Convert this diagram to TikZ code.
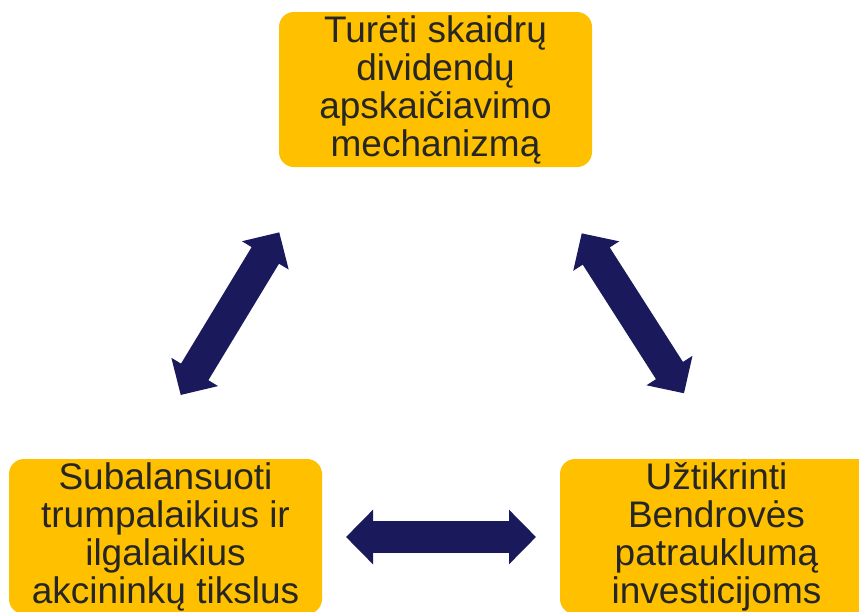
\documentclass[tikz,border=0pt]{standalone}
\usepackage{fontspec}
\setmainfont{Liberation Sans}
\usetikzlibrary{arrows.meta}
\definecolor{boxfill}{HTML}{FFC000}
\definecolor{navy}{RGB}{25,25,92}
\definecolor{txt}{HTML}{262626}
\begin{document}
\begin{tikzpicture}[x=1pt,y=-1pt,
  goal/.style={rectangle, rounded corners=15pt, fill=boxfill, minimum width=313pt,
    minimum height=155pt, inner sep=0pt, align=center, text=txt,
    font=\fontsize{37pt}{38pt}\selectfont},
  bigarrow/.style={draw=navy, line width=32pt,
    {Triangle[length=27pt,width=53pt]}-{Triangle[length=27pt,width=53pt]}}]
\useasboundingbox (0,0) rectangle (859,611);
\clip (0,0) rectangle (859,611);
\node[goal] (top) at (435.5,89.5) {Turėti skaidrų\\dividendų\\apskaičiavimo\\mechanizmą};
\node[goal] (left) at (165.5,536.5) {Subalansuoti\\trumpalaikius ir\\ilgalaikius\\akcininkų tikslus};
\node[goal] (right) at (716.5,536.5) {U\smash{ž}tikrinti\\Bendrovės\\patrauklumą\\investicijoms};
\coordinate (l1) at (180.7,395);
\coordinate (l2) at (279.3,232.3);
\coordinate (r1) at (581.7,233.3);
\coordinate (r2) at (684,393.3);
\coordinate (h1) at (346,537);
\coordinate (h2) at (536,537);
\draw[bigarrow] (l1) -- (l2);
\draw[bigarrow] (r1) -- (r2);
\draw[bigarrow] (h1) -- (h2);
\end{tikzpicture}
\end{document}
